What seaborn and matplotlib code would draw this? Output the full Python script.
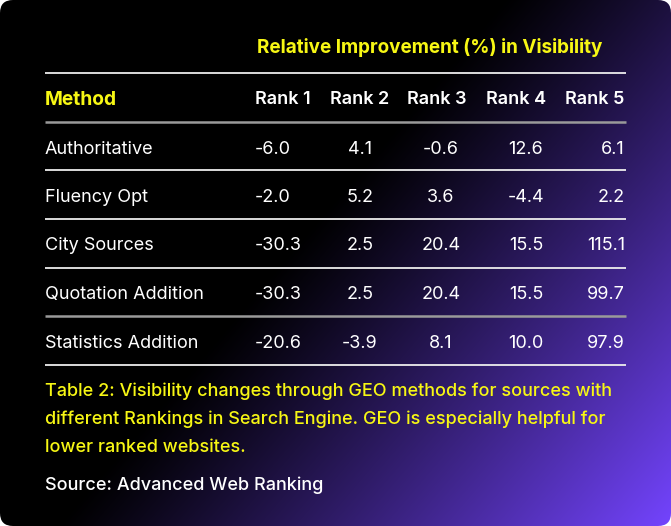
import numpy as np
import matplotlib
matplotlib.use("Agg")
import matplotlib.pyplot as plt
import seaborn as sns
from matplotlib.patches import FancyBboxPatch

# ---------------- data ----------------
title = "Relative Improvement (%) in Visibility"
method_header = "Method"
rank_labels = ["Rank 1", "Rank 2", "Rank 3", "Rank 4", "Rank 5"]
methods = ["Authoritative", "Fluency Opt", "City Sources",
           "Quotation Addition", "Statistics Addition"]
rank1 = ["-6.0", "-2.0", "-30.3", "-30.3", "-20.6"]
rank2 = ["4.1", "5.2", "2.5", "2.5", "-3.9"]
rank3 = ["-0.6", "3.6", "20.4", "20.4", "8.1"]
rank4 = ["12.6", "-4.4", "15.5", "15.5", "10.0"]
rank5 = ["6.1", "2.2", "115.1", "99.7", "97.9"]
caption = ["Table 2: Visibility changes through GEO methods for sources with",
           "different Rankings in Search Engine. GEO is especially helpful for",
           "lower ranked websites."]
source = "Source: Advanced Web Ranking"

# ---------------- style ----------------
sns.set_theme(style="white")
plt.rcParams['font.family'] = ['Inter', 'DejaVu Sans']

W, H = 671, 526
fig = plt.figure(figsize=(W / 100, H / 100), dpi=100, facecolor="white")
ax = fig.add_axes([0, 0, 1, 1])
ax.set_xlim(0, W)
ax.set_ylim(H, 0)
ax.axis("off")

# gradient background
yy, xx = np.mgrid[0:H, 0:W]
u = 0.6 * xx / W + 0.4 * yy / H
t = np.clip((u - 0.45) / 0.55, 0, 1) ** 1.1
purple = np.array([0x74, 0x44, 0xFF]) / 255.0
dark = np.array([0.0, 0.0, 0.0])
img = dark[None, None, :] * (1 - t[..., None]) + purple[None, None, :] * t[..., None]
box = FancyBboxPatch((0, 0), W, H, boxstyle="round,pad=0,rounding_size=13",
                     transform=ax.transData, facecolor="none", edgecolor="none")
ax.add_patch(box)
im = ax.imshow(img, extent=(0, W, H, 0), interpolation="bilinear", zorder=0)
im.set_clip_path(box)

YEL = "#F7F714"
WHITE = "#FFFFFF"
fs = 13  # pt (~18px)

def btxt(x, yc, s, color=WHITE, ha="left", weight="normal", size=fs):
    # yc: visual center of capital letters in px
    ax.text(x, yc + 0.36 * size * 100 / 72, s, color=color, ha=ha, va="baseline",
            fontsize=size, fontweight=weight, zorder=3)

# title
btxt(257, 46, title, color=YEL, weight="bold", size=13.6)

# rules
x0, x1 = 45, 626
ax.hlines([73.3, 170, 218.5, 267.5, 364.5], x0, x1, color="#EDEDED", lw=1.3, zorder=2)
ax.hlines([121.7, 316], x0, x1, color="#9A9A9A", lw=1.8, zorder=2)

# header
btxt(45, 98, method_header, color=YEL, weight="bold", size=13.8)
head_x = [255, 330, 407, 486, 565]
for hx, lab in zip(head_x, rank_labels):
    btxt(hx, 98, lab, weight="semibold")

# rows
row_y = [147, 195.5, 244, 292.5, 341]
cols = [rank1, rank2, rank3, rank4, rank5]
col_x = [255, 360, 441, 526, 625]
col_ha = ["left", "center", "center", "center", "right"]
for i, m in enumerate(methods):
    btxt(45, row_y[i], m)
    for c, cx, ha in zip(cols, col_x, col_ha):
        btxt(cx, row_y[i], c[i], ha=ha)

# caption
for k, line in enumerate(caption):
    btxt(45, 390 + 28 * k, line, color=YEL, weight="medium")
btxt(45, 484, source, weight="medium")

fig.savefig("out.png", dpi=100, facecolor="white")
